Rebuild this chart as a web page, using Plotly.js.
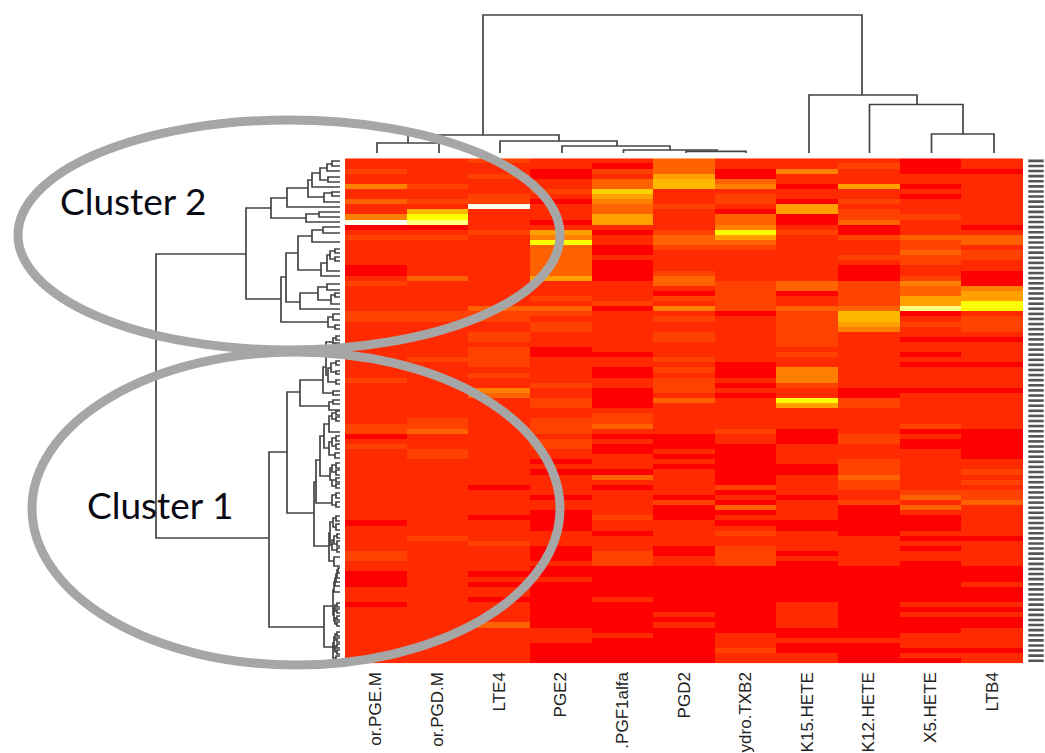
<!DOCTYPE html>
<html><head><meta charset="utf-8">
<script src="https://cdn.plot.ly/plotly-3.0.1.min.js"></script>
<style>html,body{margin:0;padding:0;background:#fff;overflow:hidden}#c{width:1045px;height:753px}</style>
</head><body><div id="c"></div>
<script>
// Column labels as far as they are visible in the picture
const columns = ["or.PGE.M","or.PGD.M","LTE4","PGE2",".PGF1alfa","PGD2","ydro.TXB2","K15.HETE","K12.HETE","X5.HETE","LTB4"];
const rowCount = 99;
const PGEM = [0,1,2,2,3,1,5,4,6,1,8,3,9,1,11,4,12,10,13,0,14,1,15,2,16,1,21,0,23,1,24,2,25,1,30,2,32,1,43,2,44,1,52,2,54,0,55,1,56,2,57,1,71,0,72,1,77,2,79,1,81,0,84,1,87,0,88,1];
const PGDM = [0,1,5,2,6,1,8,2,9,1,10,6,11,8,12,9,13,0,14,1,15,2,16,1,23,3,24,1,30,2,32,1,39,2,40,1,51,2,53,3,54,1,57,2,59,1,74,2,75,1];
const LTE4 = [0,2,1,1,3,2,4,1,7,2,9,10,10,1,14,2,15,1,29,3,30,2,32,1,34,2,36,1,37,2,41,1,42,2,43,1,45,4,46,3,47,1,64,0,65,1,70,0,71,1,75,2,76,1,81,0,82,1,83,0,84,1,86,0,87,1,91,3,92,1];
const PGE2 = [0,1,2,0,4,1,6,2,7,1,8,0,9,1,12,0,13,1,14,5,15,4,16,8,17,3,23,5,24,1,27,2,28,1,29,3,30,2,31,1,32,2,34,1,37,0,39,1,44,2,45,1,47,2,49,1,51,2,54,1,55,2,57,1,59,0,60,1,61,0,62,1,66,0,67,1,69,0,73,1,76,0,79,1,80,0,82,1,83,0,92,1,95,0];
const PGF1 = [0,1,1,0,2,2,3,1,4,3,6,7,7,5,8,4,9,3,11,5,13,1,14,0,15,1,17,0,19,1,20,0,24,1,28,2,29,0,30,1,38,0,39,1,41,0,43,1,45,0,49,1,50,2,52,3,53,1,54,0,55,1,56,0,58,1,61,0,62,3,63,1,64,0,65,1,70,2,71,1,73,0,74,1,77,2,80,0,86,1,87,0,93,1,94,0];
const PGD2 = [0,3,3,5,4,6,6,1,9,2,10,1,14,2,15,3,17,2,18,1,22,2,23,3,25,1,26,0,27,2,28,1,29,4,30,1,31,2,32,1,34,2,36,1,39,2,40,1,41,2,42,1,43,2,46,1,47,3,48,1,54,0,57,1,58,0,59,1,60,0,61,1,66,0,67,2,68,0,71,1,76,0,78,1,80,0,89,1,90,0,91,1,92,0];
const TXB2 = [0,1,2,0,4,3,5,4,6,1,7,2,9,1,10,0,11,3,13,4,14,8,15,5,16,3,17,2,18,1,24,2,30,0,31,1,40,0,43,1,44,0,45,1,46,0,47,1,53,2,54,1,56,0,64,2,65,0,66,1,67,0,68,3,69,0,70,1,71,0,72,1,73,2,74,1,76,2,80,0,93,1,96,2,97,1];
const H15 = [0,1,2,4,3,1,5,0,6,1,8,0,9,5,11,0,13,1,14,2,15,1,24,3,26,0,27,1,29,3,30,2,37,1,38,2,39,1,41,4,44,2,45,1,47,8,48,5,49,1,53,0,56,1,60,0,62,1,66,0,67,1,71,0,73,1,77,0,78,1,79,0,87,1,92,0,94,1,95,0,97,1];
const H12 = [0,1,1,2,2,1,5,5,6,1,8,2,9,1,10,2,12,3,13,0,15,2,16,1,19,2,20,1,21,0,24,2,29,3,30,6,32,5,33,4,34,1,45,0,47,2,49,1,54,2,56,1,59,2,62,3,63,2,65,1,67,2,68,0,74,1,80,0,94,1,95,0];
const H5 = [0,0,3,1,5,0,6,1,7,0,8,1,11,2,12,1,15,3,16,2,18,3,19,2,21,1,23,2,24,4,25,3,27,5,29,9,30,0,31,1,32,2,33,1,35,0,36,1,38,0,39,1,40,0,41,1,45,0,46,1,52,2,53,0,54,1,55,0,57,1,65,2,66,3,67,1,68,3,69,1,70,0,73,1,74,0,75,1,76,0,77,1,79,0,87,1,88,0,89,1,90,0,93,1,96,0,97,1,98,0];
const LTB4 = [0,1,2,0,3,1,13,0,14,1,15,3,17,1,18,2,20,1,22,0,25,4,26,5,28,8,30,1,31,2,34,1,35,0,36,1,40,0,41,1,45,0,46,1,53,0,59,1,61,2,62,1,63,2,64,1,65,2,67,3,68,1,74,0,75,1,80,0,83,1,84,0,87,1,88,0,89,1,90,0,92,1,96,0,97,1];
const levelColors = ["#ff0000","#ff2a00","#ff4200","#ff6200","#ff8000","#ffa000","#ffb800","#ffd000","#ffff00","#ffff80","#fffff0"];
const columnRuns = [PGEM,PGDM,LTE4,PGE2,PGF1,PGD2,TXB2,H15,H12,H5,LTB4];

// Left dendrogram merges: [height, branch a, branch b, child height a, child height b], leaf = 340
const rowMerges = [
[332,161,166],[327,164,171,332,340],[328,177,182],[320,168,180,327,328],[312,173,187,320,340],
[332,192,196],[324,193,202,332,340],[308,180,197,312,324],[287,188,207,308,340],
[319,212,217],[306,214,222,319,340],[271,198,218,287,306],
[323,227,233],[312,230,242,323,340],
[335,249,253],[335,257,261],[330,251,259,335,335],[327,255,271,330,340],[321,263,276,327,340],[298,236,270,312,321],
[327,284,290],[335,293,297],[331,295,304,335,340],[318,287,300,327,331],[300,293,309,318,340],[286,253,302,298,300],
[333,314,320],[335,325,329],[328,317,327,333,335],[281,277,322,286,328],[246,208,299,271,281],
[336,336,340],[335,343,346],[333,338,345,336,335],
[336,361,365],[336,371,374],[331,363,372,336,336],[336,380,384],[328,368,382,331,336],[326,342,375,333,328],
[333,391,395],[323,367,393,326,333],[333,400,404],[329,402,410,333,340],[300,380,406,323,329],
[336,411,415],[336,417,421],[332,413,419,336,336],[329,416,432,332,340],
[336,436,441],[336,444,449],[332,438,446,336,336],[335,453,458],[329,442,455,332,335],[324,424,448,329,329],
[336,463,468],[336,470,475],[332,465,472,336,336],[336,478,482],[336,484,488],[332,480,486,336,336],[330,468,480,332,332],
[320,436,476,324,330],[336,493,498],[336,502,507],[332,495,505,336,336],[316,460,503,320,332],
[336,516,521],[336,524,530],[333,518,527,336,336],[337,534,538],[337,541,546],[334,536,544,337,337],[337,548,552],[332,540,550,334,337],
[330,522,545,333,332],[334,557,566],[329,533,561,330,334],[314,482,546,316,329],[287,392,513,300,314],
[338,568,573],[337,570,578,338,340],[336,574,582,337,340],[335,578,586,336,340],[334,582,592,335,340],
[337,603,607],[337,609,613],[335,605,611,337,337],[337,616,620],[337,622,626],[335,618,624,337,337],[334,608,621,335,335],[333,590,615,334,334],
[337,632,636],[337,638,642],[335,634,640,337,337],[337,644,648],[337,650,654],[335,646,652,337,337],[334,637,649,335,335],[336,656,660],[333,643,658,334,336],
[324,606,647,333,333],[269,452,627,287,324],[156,254,538,246,269]
];
// Top dendrogram merges: [height, branch a, branch b, child height a, child height b], leaf = 153
const columnMerges = [
[143,377,439],[151.3,686,746],[150,623.5,717,153,151.3],[146,562,670,153,150],[141,500,617,153,146],[135,408,559,143,141],
[134,931.5,994],[104.5,869.5,963,153,134],[95,809,917,153,104.5],[15,483,862,135,95]
];
const ellipses = [{x0:18,x1:560,y0:120,y1:350},{x0:32,x1:560,y0:352,y1:665}];

const z = Array.from({length:rowCount},()=>columns.map(()=>0));
columnRuns.forEach((runs,c)=>{
  for(let i=0;i<runs.length;i+=2){
    const end = i+2<runs.length ? runs[i+2] : rowCount;
    for(let r=runs[i];r<end;r++) z[r][c]=runs[i+1];
  }
});
const rowIdx = z.map((_,i)=>i);
const lx=[],ly=[];
rowMerges.forEach(([h,a,b,ca=340,cb=340])=>{lx.push(ca,h,h,cb,null);ly.push(a,a,b,b,null);});
const tx=[],ty=[];
columnMerges.forEach(([h,a,b,ca=153,cb=153])=>{tx.push(a,a,b,b,null);ty.push(ca,h,h,cb,null);});

const data=[
 {type:'heatmap',z:z,x:columns,y:rowIdx,zmin:0,zmax:10,showscale:false,hoverinfo:'skip',
  colorscale:levelColors.map((c,i)=>[i/10,c]),xaxis:'x',yaxis:'y'},
 {type:'scatter',mode:'lines',x:lx,y:ly,xaxis:'x2',yaxis:'y2',hoverinfo:'skip',connectgaps:false,
  line:{color:'#444',width:1.7}},
 {type:'scatter',mode:'lines',x:tx,y:ty,xaxis:'x2',yaxis:'y2',hoverinfo:'skip',connectgaps:false,
  line:{color:'#444',width:1.7}},
 {type:'scatter',mode:'markers',x:rowIdx.map(()=>1036),y:rowIdx,xaxis:'x2',yaxis:'y',hoverinfo:'skip',
  marker:{symbol:'line-ew',size:11,line:{color:'#555',width:2.6}}}
];
const layout={
 width:1045,height:753,margin:{l:0,r:0,t:0,b:0},paper_bgcolor:'#fff',plot_bgcolor:'rgba(0,0,0,0)',showlegend:false,
 xaxis:{domain:[345/1045,1023/1045],type:'category',side:'bottom',tickangle:-90,ticks:'outside',ticklen:1,tickcolor:'rgba(0,0,0,0)',
   tickfont:{family:'Liberation Sans, Arial, sans-serif',size:17,color:'#222'},showgrid:false,zeroline:false,automargin:false,showline:false},
 yaxis:{domain:[(753-663.3)/753,(753-158.3)/753],range:[rowCount-0.5,-0.5],showticklabels:false,ticks:'',showgrid:false,zeroline:false,automargin:false},
 xaxis2:{domain:[0,1],range:[0,1045],visible:false,fixedrange:true,anchor:'y2'},
 yaxis2:{domain:[0,1],range:[753,0],visible:false,fixedrange:true,anchor:'x2'},
 shapes:ellipses.map(e=>({type:'circle',xref:'x2',yref:'y2',x0:e.x0,x1:e.x1,y0:e.y0,y1:e.y1,
   line:{color:'#a6a6a6',width:9},fillcolor:'rgba(0,0,0,0)',layer:'above'})),
 annotations:[
  {xref:'x2',yref:'y2',x:133,y:200,text:'Cluster 2',showarrow:false,font:{family:'Lato, sans-serif',size:37,color:'#0a0a14'}},
  {xref:'x2',yref:'y2',x:160,y:504,text:'Cluster 1',showarrow:false,font:{family:'Lato, sans-serif',size:37,color:'#0a0a14'}}
 ]
};
Plotly.newPlot('c',data,layout,{displayModeBar:false,staticPlot:true});
</script></body></html>
